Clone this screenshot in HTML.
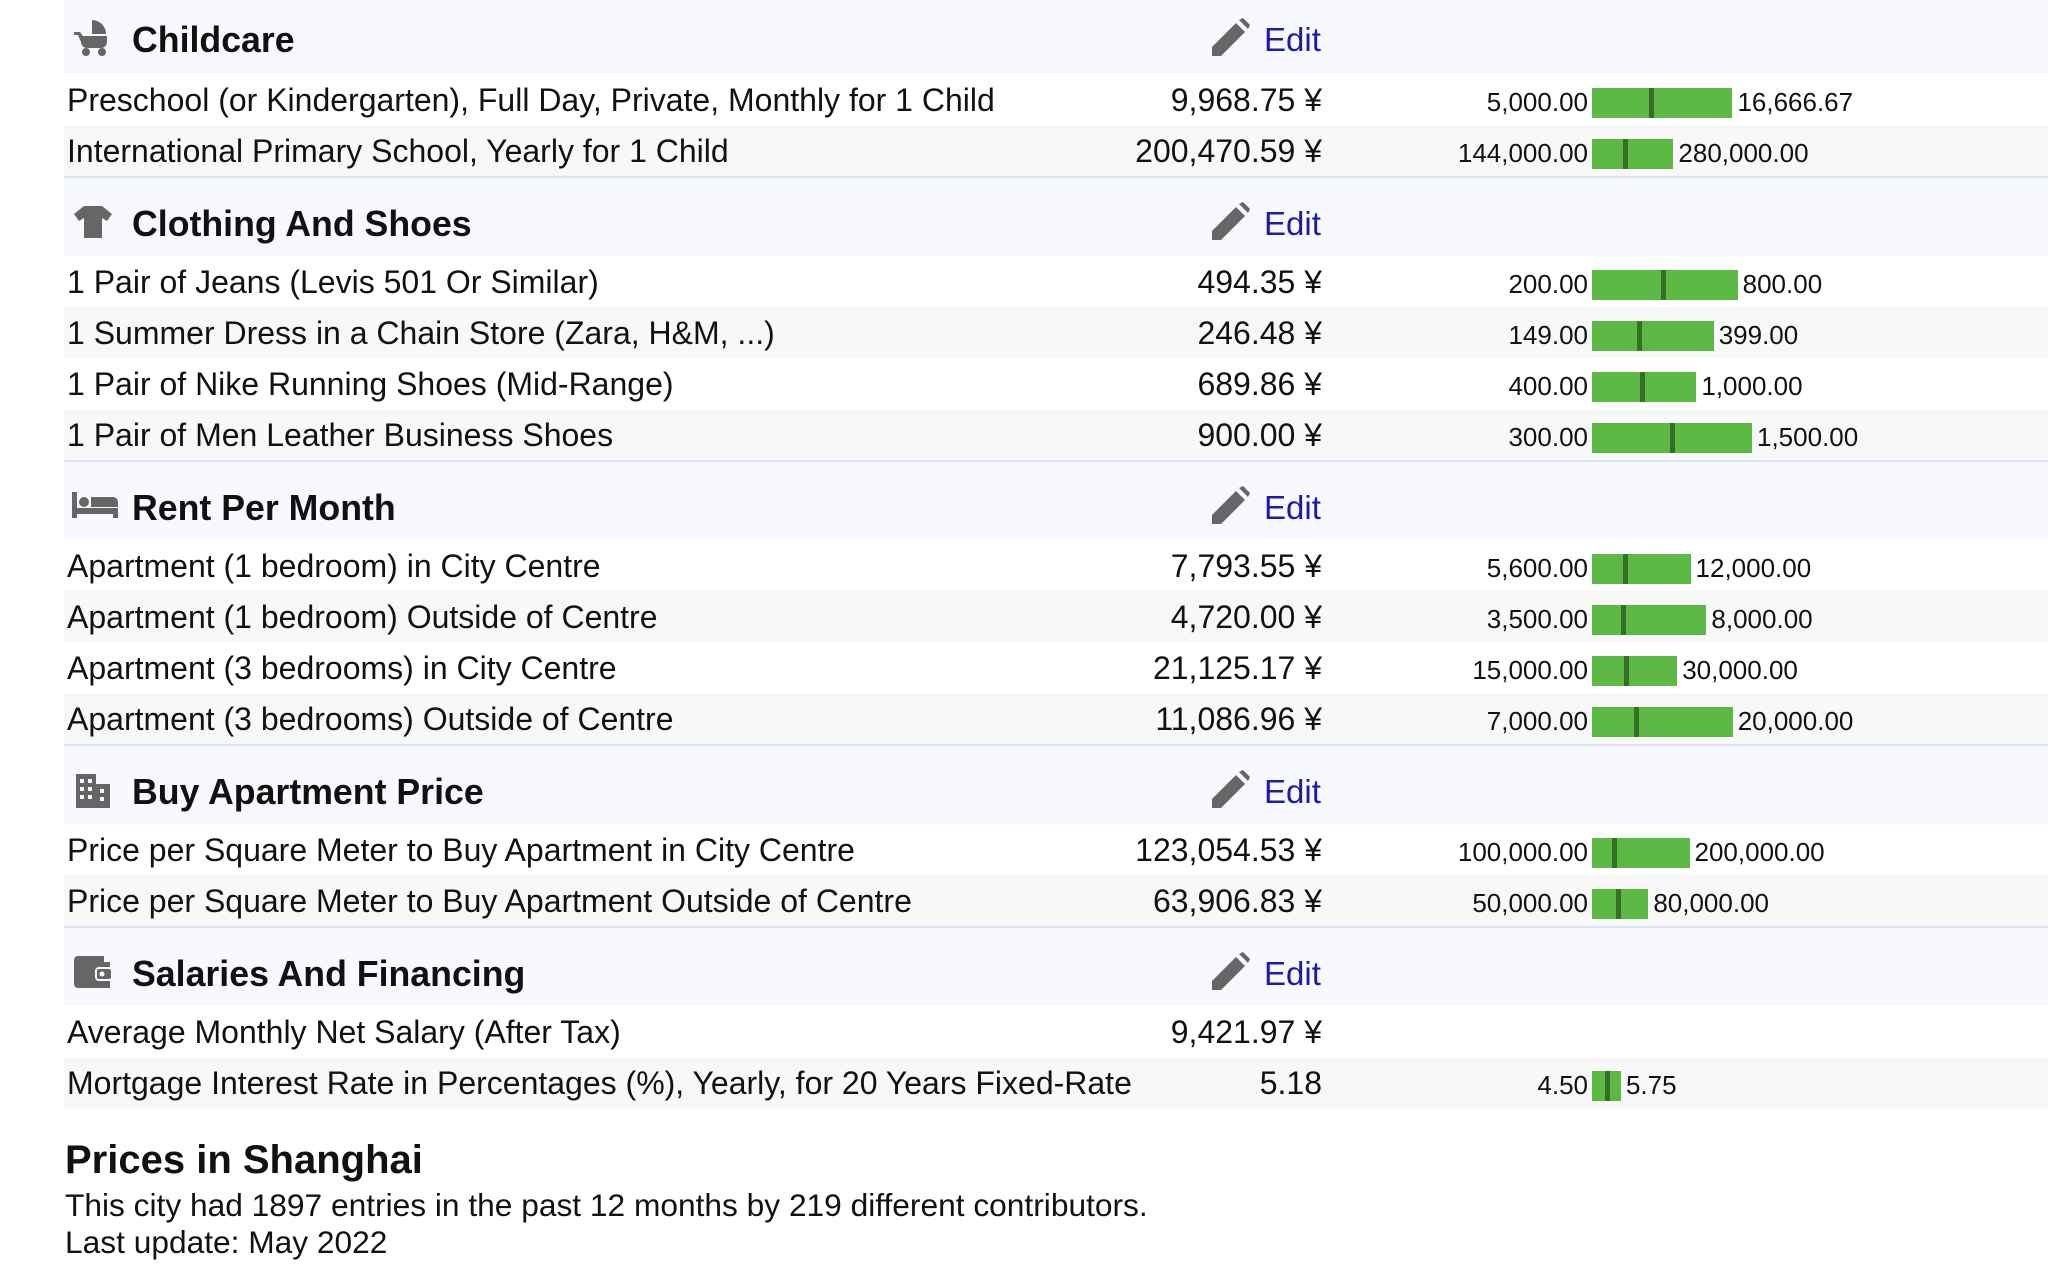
<!DOCTYPE html>
<html><head><meta charset="utf-8">
<style>
html,body{margin:0;padding:0;background:#fff;width:2048px;height:1272px;overflow:hidden;font-family:"Liberation Sans",Arial,sans-serif;color:#111}
#wrap{position:relative;width:2048px;height:1272px}
.hdr{position:absolute;left:64px;right:0;height:80px;background:#f7f9fe;border-top:2px solid #d6e3f0;box-sizing:border-box}
.hdr .t{position:absolute;left:68px;top:26px;font-weight:bold;font-size:35.7px;line-height:40px}
.hdr svg.ic{position:absolute;left:6px;top:24px}
.hdr .pen{position:absolute;left:1144px;top:22px}
.hdr .edit{position:absolute;left:1200px;top:26px;font-size:33px;line-height:40px;color:#1b1ba8;text-decoration:none}
.row{position:absolute;left:64px;right:0;height:51px}
.row .lb{position:absolute;left:3px;top:8px;font-size:32px;line-height:36px;white-space:nowrap}
.row .val{position:absolute;right:726px;top:8px;font-size:32px;line-height:36px;white-space:nowrap}
.row .mn{position:absolute;right:460px;top:13px;font-size:26px;line-height:30px;text-align:right}
.row .bar{position:absolute;left:1528px;top:14px;height:30px;background:#5cb943}
.row .mk{position:absolute;top:0;width:5px;height:30px;background:#356e25}
.row .mx{position:absolute;top:13px;font-size:26px;line-height:30px;white-space:nowrap}
.ft{position:absolute;left:65px;white-space:nowrap}
</style></head><body>
<div id="wrap"></div>
<script>
const sectionTitles=["Childcare","Clothing And Shoes","Rent Per Month","Buy Apartment Price","Salaries And Financing"];
const itemLabels=[
["Preschool (or Kindergarten), Full Day, Private, Monthly for 1 Child","International Primary School, Yearly for 1 Child"],
["1 Pair of Jeans (Levis 501 Or Similar)","1 Summer Dress in a Chain Store (Zara, H&M, ...)","1 Pair of Nike Running Shoes (Mid-Range)","1 Pair of Men Leather Business Shoes"],
["Apartment (1 bedroom) in City Centre","Apartment (1 bedroom) Outside of Centre","Apartment (3 bedrooms) in City Centre","Apartment (3 bedrooms) Outside of Centre"],
["Price per Square Meter to Buy Apartment in City Centre","Price per Square Meter to Buy Apartment Outside of Centre"],
["Average Monthly Net Salary (After Tax)","Mortgage Interest Rate in Percentages (%), Yearly, for 20 Years Fixed-Rate"]];
const itemValues=[[9968.75,200470.59],[494.35,246.48,689.86,900.00],[7793.55,4720.00,21125.17,11086.96],[123054.53,63906.83],[9421.97,5.18]];
const currency=[[1,1],[1,1,1,1],[1,1,1,1],[1,1],[1,0]];
const rangeMin=[[5000,144000],[200,149,400,300],[5600,3500,15000,7000],[100000,50000],[null,4.50]];
const rangeMax=[[16666.67,280000],[800,399,1000,1500],[12000,8000,30000,20000],[200000,80000],[null,5.75]];

const icons=[
'<svg class="ic" width="46" height="40" viewBox="0 0 46 40"><path d="M22 2 A14 14 0 0 1 36 16 L22 16Z" fill="#666"/><path d="M4 14 h6 l3 4 h24 v6 a6 6 0 0 1 -6 6 h-14 a6 6 0 0 1 -6 -6 l-3-7 h-4z" fill="#666"/><circle cx="16" cy="34" r="4" fill="#666"/><circle cx="32" cy="34" r="4" fill="#666"/></svg>',
'<svg class="ic" width="46" height="40" viewBox="0 0 46 40"><path d="M14 4 h18 l10 8 -5 7 -5-3 v20 h-18 v-20 l-5 3 -5-7z" fill="#666"/></svg>',
'<svg class="ic" width="50" height="40" viewBox="0 0 50 40"><rect x="2" y="6" width="5" height="26" fill="#666"/><rect x="2" y="22" width="46" height="6" fill="#666"/><rect x="43" y="22" width="5" height="10" fill="#666"/><circle cx="14" cy="16" r="5" fill="#666"/><path d="M21 11 h22 a5 5 0 0 1 5 5 v5 h-27z" fill="#666"/></svg>',
'<svg class="ic" width="46" height="40" viewBox="0 0 46 40"><path d="M6 4 h20 v10 h14 v24 h-34z" fill="#666"/><g fill="#f7f9fe"><rect x="10" y="9" width="4" height="4"/><rect x="18" y="9" width="4" height="4"/><rect x="10" y="17" width="4" height="4"/><rect x="18" y="17" width="4" height="4"/><rect x="10" y="25" width="4" height="4"/><rect x="18" y="25" width="4" height="4"/><rect x="30" y="19" width="4" height="4"/><rect x="30" y="27" width="4" height="4"/></g></svg>',
'<svg class="ic" width="46" height="40" viewBox="0 0 46 40"><path d="M4 8 a4 4 0 0 1 4 -4 h26 v6 h6 v26 h-32 a4 4 0 0 1 -4 -4z" fill="#666"/><rect x="26" y="16" width="16" height="12" rx="3" fill="#666" stroke="#f7f9fe" stroke-width="2"/><circle cx="32" cy="22" r="2.5" fill="#f7f9fe"/></svg>'];
const pen='<svg class="pen" width="44" height="44" viewBox="0 0 44 44"><path d="M4 40 v-9 l24-24 9 9 -24 24z" fill="#666"/><path d="M31 4 l4-2 7 7 -2 4z" fill="#666"/></svg>';

function fmt(v){return v.toLocaleString('en-US',{minimumFractionDigits:2,maximumFractionDigits:2});}
const W=document.getElementById('wrap');
let y=-6;
const HDR=80,ROW=51,BARK=120;
for(let s=0;s<sectionTitles.length;s++){
  const h=document.createElement('div');
  h.className='hdr';
  
  
  h.style.top=y+'px';
  if(s===0)h.style.borderTop='none';
  h.innerHTML=icons[s]+'<span class="t">'+sectionTitles[s]+'</span>'+pen+'<a class="edit">Edit</a>';
  W.appendChild(h);
  y+=HDR;
  for(let i=0;i<itemLabels[s].length;i++){
    const r=document.createElement('div');
    r.className='row';
    
    
    r.style.top=y+'px';
    r.style.background=(i%2)?'#f8f8f8':'#fff';
    const v=itemValues[s][i];
    let html='<span class="lb"></span><span class="val">'+fmt(v)+(currency[s][i]?' ¥':'')+'</span>';
    r.innerHTML=html;
    r.querySelector('.lb').textContent=itemLabels[s][i];
    const mn=rangeMin[s][i],mx=rangeMax[s][i];
    if(mn!==null){
      const w=BARK*(mx-mn)/v;
      const m=document.createElement('span');m.className='mn';m.textContent=fmt(mn);
      
      
      r.appendChild(m);
      const b=document.createElement('div');b.className='bar';b.style.width=w+'px';
      
      
      const k=document.createElement('div');k.className='mk';k.style.left=(w*(v-mn)/(mx-mn)-2.5)+'px';
      
      
      b.appendChild(k);r.appendChild(b);
      const x=document.createElement('span');x.className='mx';x.style.left=(1528+w+5)+'px';x.textContent=fmt(mx);
      
      
      r.appendChild(x);
    }
    W.appendChild(r);
    y+=ROW;
  }
}
const f1=document.createElement('div');f1.className='ft';f1.style.top=(y+30)+'px';f1.style.font='bold 40px "Liberation Sans",sans-serif';f1.textContent='Prices in Shanghai';


W.appendChild(f1);
const f2=document.createElement('div');f2.className='ft';f2.style.top=(y+79)+'px';f2.style.fontSize='31.7px';f2.style.lineHeight='37px';f2.innerHTML='This city had 1897 entries in the past 12 months by 219 different contributors.<br>Last update: May 2022';


W.appendChild(f2);
</script>
</body></html>
